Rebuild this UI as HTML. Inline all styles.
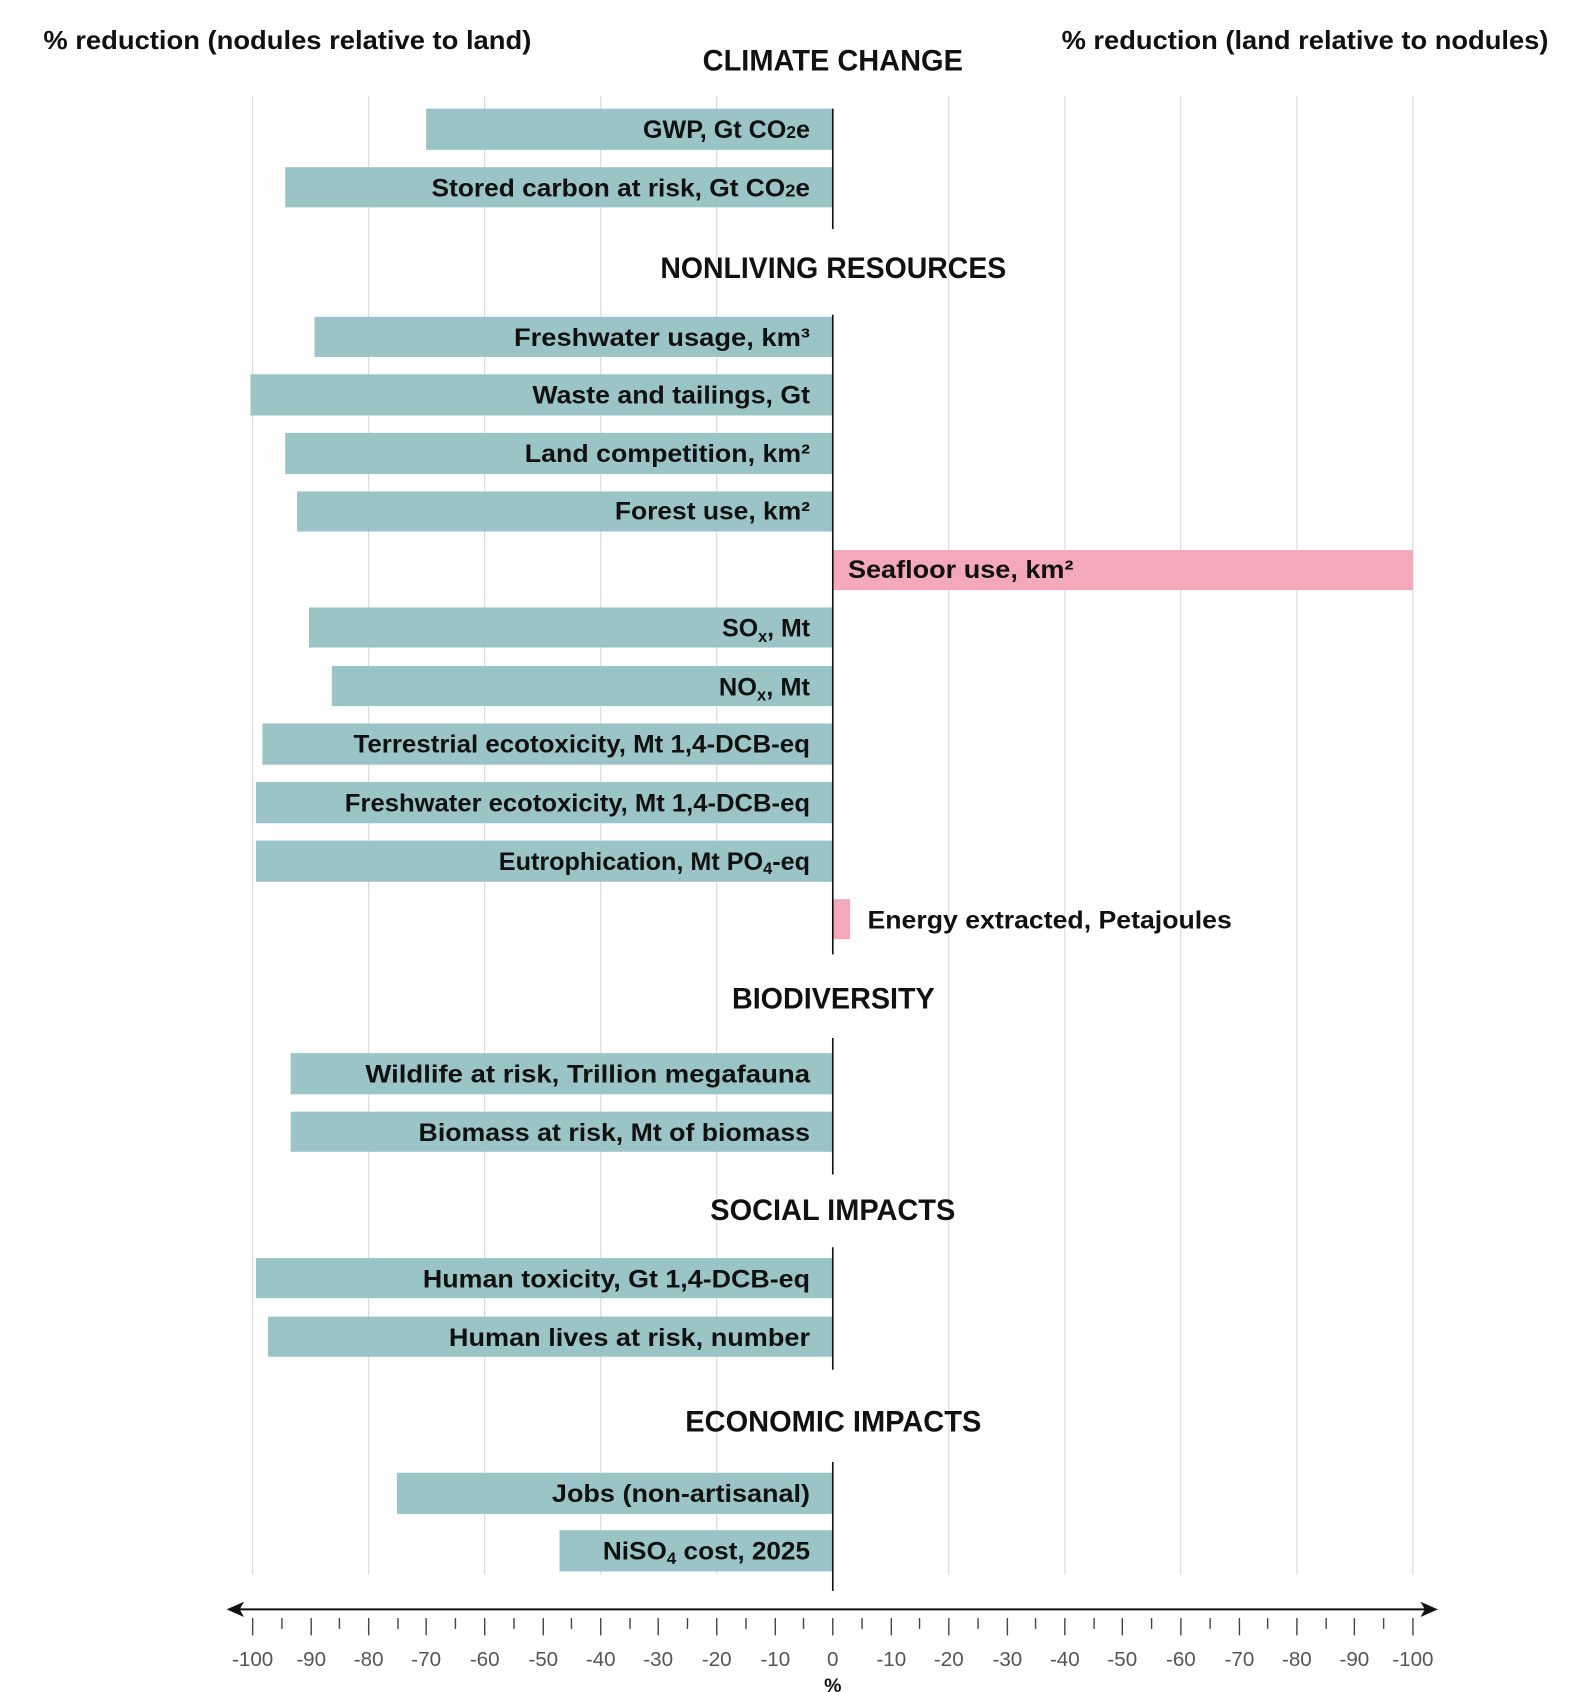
<!DOCTYPE html>
<html><head><meta charset="utf-8"><style>
html,body{margin:0;padding:0;background:#fff;}
svg{display:block;}
text{font-family:"Liberation Sans",sans-serif;font-weight:bold;fill:#111;}
.lb{font-size:23px;}
.sec{font-size:27px;}
.tk text{font-size:19px;font-weight:normal;fill:#555;}
</style></head><body>
<svg width="1594" height="1692" viewBox="0 0 1470 1560" xmlns="http://www.w3.org/2000/svg">
<rect width="1470" height="1560" fill="#fff"/>
<g stroke="#d8d8d8" stroke-width="1">
<line x1="233" y1="88" x2="233" y2="1452"/><line x1="340" y1="88" x2="340" y2="1452"/>
<line x1="447" y1="88" x2="447" y2="1452"/><line x1="554" y1="88" x2="554" y2="1452"/>
<line x1="661" y1="88" x2="661" y2="1452"/><line x1="875" y1="88" x2="875" y2="1452"/>
<line x1="982" y1="88" x2="982" y2="1452"/><line x1="1089" y1="88" x2="1089" y2="1452"/>
<line x1="1196" y1="88" x2="1196" y2="1452"/><line x1="1303" y1="88" x2="1303" y2="1452"/>
</g>
<text x="40" y="45" font-size="24" textLength="450" lengthAdjust="spacingAndGlyphs">% reduction (nodules relative to land)</text>
<text x="979" y="45" font-size="24" textLength="449" lengthAdjust="spacingAndGlyphs">% reduction (land relative to nodules)</text>
<g class="sec">
<text x="648" y="65" textLength="240" lengthAdjust="spacingAndGlyphs">CLIMATE CHANGE</text>
<text x="609" y="256" textLength="319" lengthAdjust="spacingAndGlyphs">NONLIVING RESOURCES</text>
<text x="675" y="930" textLength="187" lengthAdjust="spacingAndGlyphs">BIODIVERSITY</text>
<text x="655" y="1125" textLength="226" lengthAdjust="spacingAndGlyphs">SOCIAL IMPACTS</text>
<text x="632" y="1320" textLength="273" lengthAdjust="spacingAndGlyphs">ECONOMIC IMPACTS</text>
</g>
<g fill="#9bc4c6">
<rect x="393" y="100" width="375" height="38"/>
<rect x="263" y="154" width="505" height="37"/>
<rect x="290" y="292" width="478" height="37"/>
<rect x="231" y="345" width="537" height="38"/>
<rect x="263" y="399" width="505" height="38"/>
<rect x="274" y="453" width="494" height="37"/>
<rect x="285" y="560" width="483" height="37"/>
<rect x="306" y="614" width="462" height="37"/>
<rect x="242" y="667" width="526" height="38"/>
<rect x="236" y="721" width="532" height="38"/>
<rect x="236" y="775" width="532" height="38"/>
<rect x="268" y="971" width="500" height="38"/>
<rect x="268" y="1025" width="500" height="37"/>
<rect x="236" y="1160" width="532" height="37"/>
<rect x="247" y="1214" width="521" height="37"/>
<rect x="366" y="1358" width="402" height="38"/>
<rect x="516" y="1411" width="252" height="38"/>
</g>
<g fill="#f4a9ba">
<rect x="768" y="507" width="535" height="37"/>
<rect x="768" y="829" width="16" height="37"/>
</g>
<g stroke="#111" stroke-width="1.5">
<line x1="768" y1="100" x2="768" y2="211"/>
<line x1="768" y1="290" x2="768" y2="880"/>
<line x1="768" y1="957" x2="768" y2="1083"/>
<line x1="768" y1="1150" x2="768" y2="1263"/>
<line x1="768" y1="1348" x2="768" y2="1467"/>
</g>
<g class="lb">
<text x="593" y="127" textLength="154" lengthAdjust="spacingAndGlyphs">GWP, Gt CO<tspan font-size="16">2</tspan>e</text>
<text x="398" y="181" textLength="349" lengthAdjust="spacingAndGlyphs">Stored carbon at risk, Gt CO<tspan font-size="16">2</tspan>e</text>
<text x="474" y="319" textLength="273" lengthAdjust="spacingAndGlyphs">Freshwater usage, km³</text>
<text x="491" y="372" textLength="256" lengthAdjust="spacingAndGlyphs">Waste and tailings, Gt</text>
<text x="484" y="426" textLength="263" lengthAdjust="spacingAndGlyphs">Land competition, km²</text>
<text x="567" y="479" textLength="180" lengthAdjust="spacingAndGlyphs">Forest use, km²</text>
<text x="782" y="533" textLength="208" lengthAdjust="spacingAndGlyphs">Seafloor use, km²</text>
<text x="666" y="587" textLength="81" lengthAdjust="spacingAndGlyphs">SO<tspan font-size="15" dy="5">x</tspan><tspan dy="-5">, Mt</tspan></text>
<text x="663" y="641" textLength="84" lengthAdjust="spacingAndGlyphs">NO<tspan font-size="15" dy="5">x</tspan><tspan dy="-5">, Mt</tspan></text>
<text x="326" y="694" textLength="421" lengthAdjust="spacingAndGlyphs">Terrestrial ecotoxicity, Mt 1,4-DCB-eq</text>
<text x="318" y="748" textLength="429" lengthAdjust="spacingAndGlyphs">Freshwater ecotoxicity, Mt 1,4-DCB-eq</text>
<text x="460" y="802" textLength="287" lengthAdjust="spacingAndGlyphs">Eutrophication, Mt PO<tspan font-size="15" dy="4">4</tspan><tspan dy="-4">-eq</tspan></text>
<text x="800" y="856" textLength="336" lengthAdjust="spacingAndGlyphs">Energy extracted, Petajoules</text>
<text x="337" y="998" textLength="410" lengthAdjust="spacingAndGlyphs">Wildlife at risk, Trillion megafauna</text>
<text x="386" y="1052" textLength="361" lengthAdjust="spacingAndGlyphs">Biomass at risk, Mt of biomass</text>
<text x="390" y="1187" textLength="357" lengthAdjust="spacingAndGlyphs">Human toxicity, Gt 1,4-DCB-eq</text>
<text x="414" y="1241" textLength="333" lengthAdjust="spacingAndGlyphs">Human lives at risk, number</text>
<text x="509" y="1385" textLength="238" lengthAdjust="spacingAndGlyphs">Jobs (non-artisanal)</text>
<text x="556" y="1438" textLength="191" lengthAdjust="spacingAndGlyphs">NiSO<tspan font-size="15" dy="4">4</tspan><tspan dy="-4"> cost, 2025</tspan></text>
</g>
<line x1="218" y1="1484" x2="1318" y2="1484" stroke="#111" stroke-width="1.8"/>
<path d="M209 1484 L225 1477 L221 1484 L225 1491 Z" fill="#111"/>
<path d="M1326 1484 L1310 1477 L1314 1484 L1310 1491 Z" fill="#111"/>
<g stroke="#444" stroke-width="1.3">
<line x1="233" y1="1492" x2="233" y2="1508"/><line x1="260" y1="1492" x2="260" y2="1502"/>
<line x1="287" y1="1492" x2="287" y2="1508"/><line x1="313" y1="1492" x2="313" y2="1502"/>
<line x1="340" y1="1492" x2="340" y2="1508"/><line x1="367" y1="1492" x2="367" y2="1502"/>
<line x1="393" y1="1492" x2="393" y2="1508"/><line x1="420" y1="1492" x2="420" y2="1502"/>
<line x1="447" y1="1492" x2="447" y2="1508"/><line x1="474" y1="1492" x2="474" y2="1502"/>
<line x1="501" y1="1492" x2="501" y2="1508"/><line x1="527" y1="1492" x2="527" y2="1502"/>
<line x1="554" y1="1492" x2="554" y2="1508"/><line x1="581" y1="1492" x2="581" y2="1502"/>
<line x1="607" y1="1492" x2="607" y2="1508"/><line x1="634" y1="1492" x2="634" y2="1502"/>
<line x1="661" y1="1492" x2="661" y2="1508"/><line x1="688" y1="1492" x2="688" y2="1502"/>
<line x1="715" y1="1492" x2="715" y2="1508"/><line x1="741" y1="1492" x2="741" y2="1502"/>
<line x1="768" y1="1492" x2="768" y2="1508"/><line x1="795" y1="1492" x2="795" y2="1502"/>
<line x1="822" y1="1492" x2="822" y2="1508"/><line x1="848" y1="1492" x2="848" y2="1502"/>
<line x1="875" y1="1492" x2="875" y2="1508"/><line x1="902" y1="1492" x2="902" y2="1502"/>
<line x1="929" y1="1492" x2="929" y2="1508"/><line x1="955" y1="1492" x2="955" y2="1502"/>
<line x1="982" y1="1492" x2="982" y2="1508"/><line x1="1009" y1="1492" x2="1009" y2="1502"/>
<line x1="1035" y1="1492" x2="1035" y2="1508"/><line x1="1062" y1="1492" x2="1062" y2="1502"/>
<line x1="1089" y1="1492" x2="1089" y2="1508"/><line x1="1116" y1="1492" x2="1116" y2="1502"/>
<line x1="1143" y1="1492" x2="1143" y2="1508"/><line x1="1169" y1="1492" x2="1169" y2="1502"/>
<line x1="1196" y1="1492" x2="1196" y2="1508"/><line x1="1223" y1="1492" x2="1223" y2="1502"/>
<line x1="1249" y1="1492" x2="1249" y2="1508"/><line x1="1276" y1="1492" x2="1276" y2="1502"/>
<line x1="1303" y1="1492" x2="1303" y2="1508"/>
</g>
<g class="tk" text-anchor="middle">
<text x="233" y="1536">-100</text><text x="287" y="1536">-90</text><text x="340" y="1536">-80</text>
<text x="393" y="1536">-70</text><text x="447" y="1536">-60</text><text x="501" y="1536">-50</text>
<text x="554" y="1536">-40</text><text x="607" y="1536">-30</text><text x="661" y="1536">-20</text>
<text x="715" y="1536">-10</text><text x="768" y="1536">0</text><text x="822" y="1536">-10</text>
<text x="875" y="1536">-20</text><text x="929" y="1536">-30</text><text x="982" y="1536">-40</text>
<text x="1035" y="1536">-50</text><text x="1089" y="1536">-60</text><text x="1143" y="1536">-70</text>
<text x="1196" y="1536">-80</text><text x="1249" y="1536">-90</text><text x="1303" y="1536">-100</text>
</g>
<text x="768" y="1560" text-anchor="middle" font-size="18" fill="#444">%</text>
</svg>
</body></html>
